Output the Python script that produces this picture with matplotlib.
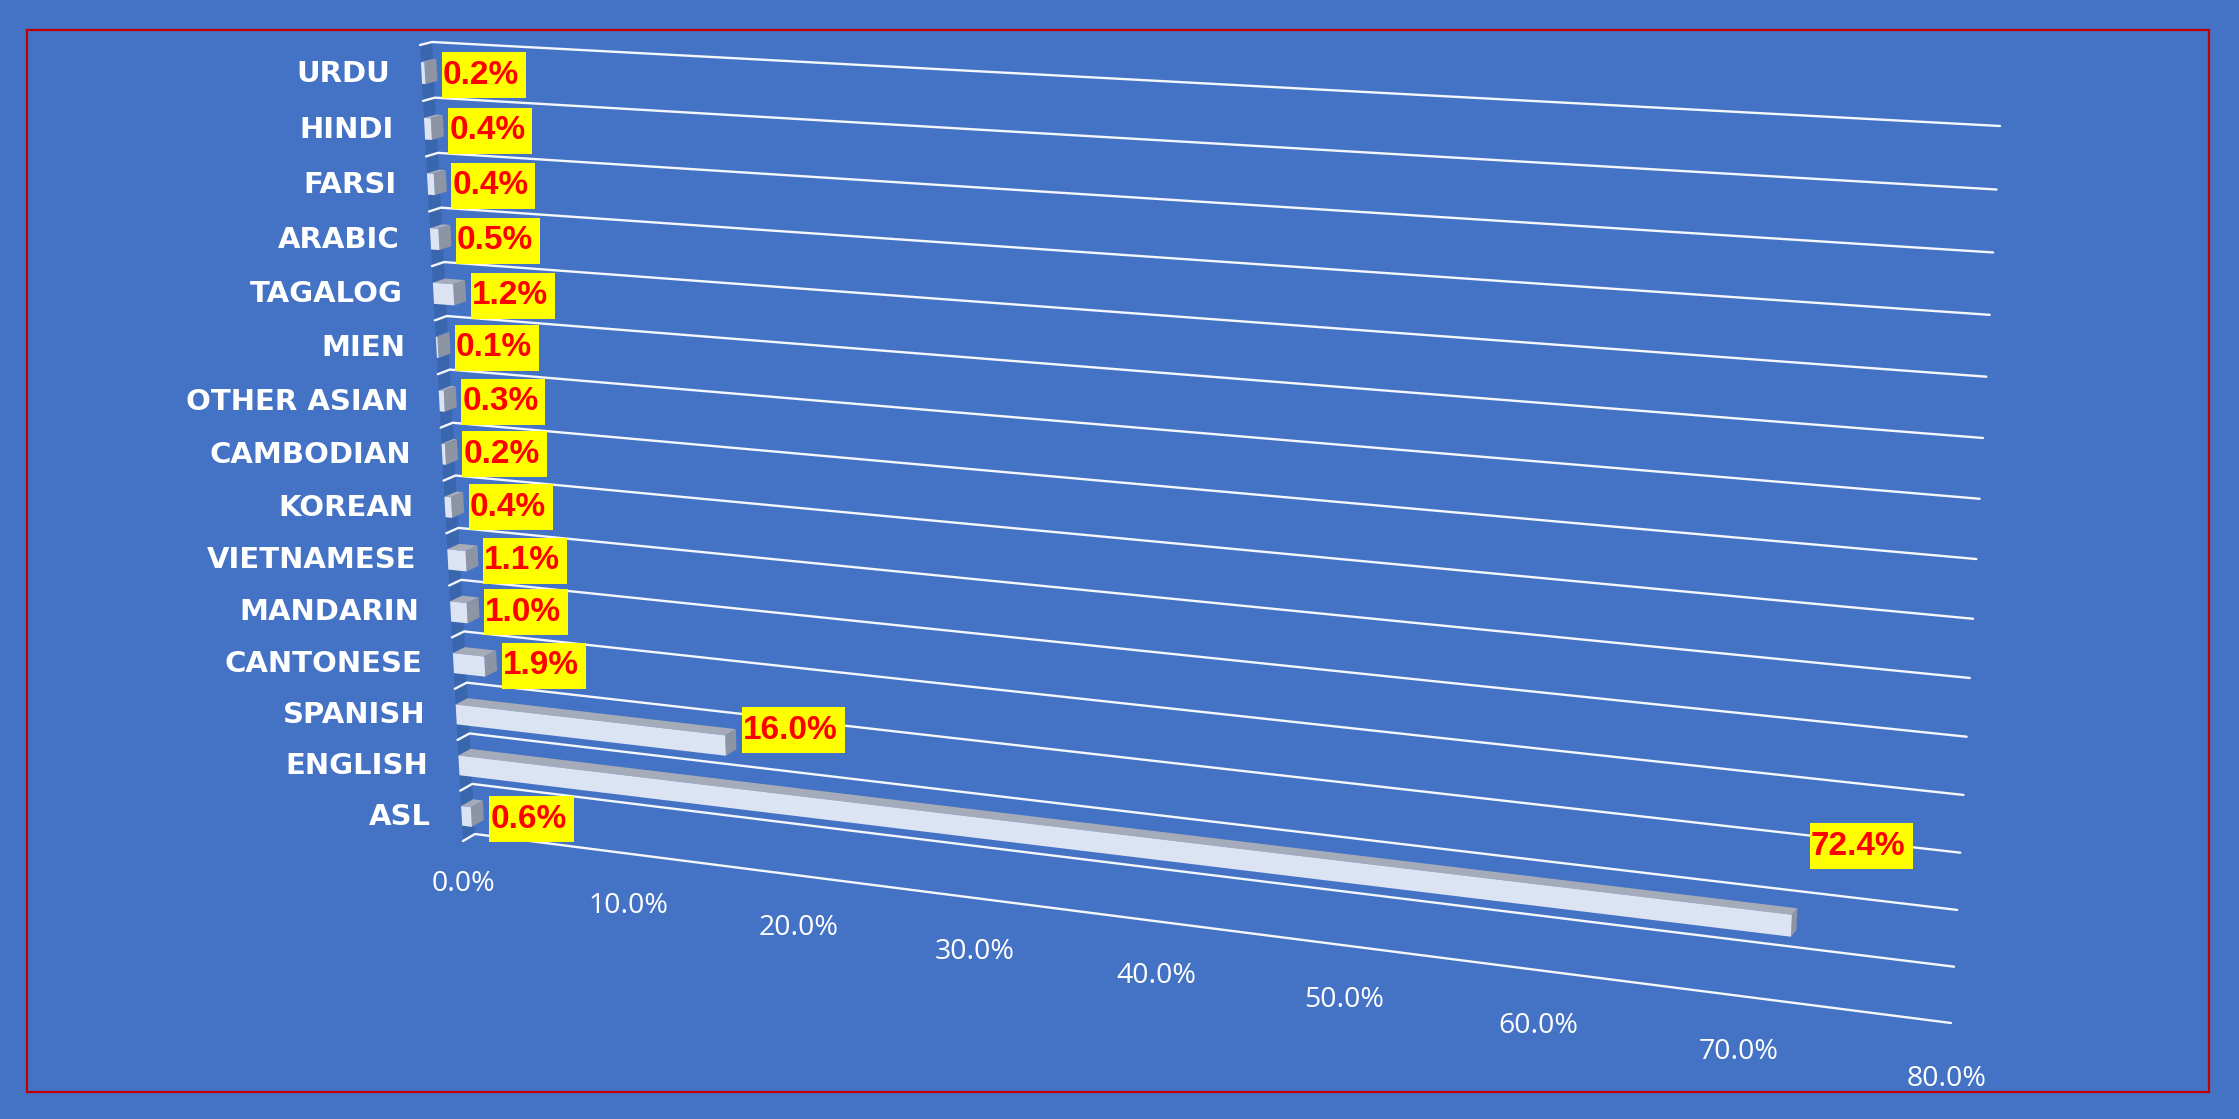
import numpy as np
import matplotlib
matplotlib.use("Agg")
import matplotlib.pyplot as plt
from matplotlib.patches import Polygon, Rectangle

categories = ["ASL", "ENGLISH", "SPANISH", "CANTONESE", "MANDARIN", "VIETNAMESE", "KOREAN",
              "CAMBODIAN", "OTHER ASIAN", "MIEN", "TAGALOG", "ARABIC", "FARSI", "HINDI", "URDU"]
values = [0.6, 72.4, 16.0, 1.9, 1.0, 1.1, 0.4, 0.2, 0.3, 0.1, 1.2, 0.5, 0.4, 0.4, 0.2]
value_ticks = [0, 10, 20, 30, 40, 50, 60, 70, 80]

W, H = 2239, 1119
BG = "#4472C4"
fig = plt.figure(figsize=(W / 100, H / 100), dpi=100, facecolor=BG)
ax = fig.add_axes([0, 0, 1, 1])
ax.set_xlim(0, W)
ax.set_ylim(H, 0)
ax.axis("off")

# perspective of the back wall: (value, row) -> figure pixels
VMAX, N = 80.0, len(categories)
src = [(0, 0), (VMAX, 0), (VMAX, N), (0, N)]
dst = [(475, 834), (1951, 1023), (2000, 126), (432, 42)]
A, b = [], []
for (u, r), (x, y) in zip(src, dst):
    A.append([u, r, 1, 0, 0, 0, -u * x, -r * x]); b.append(x)
    A.append([0, 0, 0, u, r, 1, -u * y, -r * y]); b.append(y)
M = np.append(np.linalg.solve(np.array(A, float), np.array(b, float)), 1).reshape(3, 3)


def proj(v, r, d=0.0):
    """d = 0 on the back wall, d = 1 at the front of the floor depth."""
    p = M @ np.array([v, r, 1.0])
    x, y = p[0] / p[2], p[1] / p[2]
    return x + d * (-12 + 0.09 * v), y + d * (3 + 4 * (1 - r / N))


# red frame
ax.add_patch(Rectangle((27, 30), 2209 - 27, 1092 - 30, fill=False, ec="#C00000", lw=1.6, zorder=1))

# side wall strip
ax.add_patch(Polygon([proj(0, 0, 0), proj(0, N, 0), proj(0, N, 1), proj(0, 0, 1)],
                     closed=True, fc="#3A66AE", ec="none", zorder=2))

# gridlines along rows, with their tick into the wall
for r in range(N + 1):
    pts = [proj(0, r, 1), proj(0, r, 0), proj(VMAX, r, 0)]
    ax.plot(*zip(*pts), color="white", lw=1.7, alpha=0.95, zorder=3, solid_capstyle="round")

# bars
HALF = 0.195
for r, (name, v) in enumerate(zip(categories, values)):
    c = r + 0.5
    t, bt = c + HALF, c - HALF
    top = [proj(0, t, 1), proj(v, t, 1), proj(v, t, 0), proj(0, t, 0)]
    side = [proj(v, t, 1), proj(v, bt, 1), proj(v, bt, 0), proj(v, t, 0)]
    front = [proj(0, t, 1), proj(v, t, 1), proj(v, bt, 1), proj(0, bt, 1)]
    ax.add_patch(Polygon(top, closed=True, fc="#A5ABB8", ec="none", zorder=4))
    ax.add_patch(Polygon(side, closed=True, fc="#8D95A4", ec="none", zorder=4))
    ax.add_patch(Polygon(front, closed=True, fc="#DCE3F2", ec="none", zorder=5))

    # category label
    lx, ly = proj(0, c, 1)
    ax.text(lx - 31, ly + 1, name, ha="right", va="center", color="white",
            family="DejaVu Sans", weight="bold", fontsize=21, zorder=6)

# value labels over a yellow box
label_shift = {"ENGLISH": (8, -78), "SPANISH": (1, -14), "ASL": (1, 4)}
renderer = fig.canvas.get_renderer()
for r, (name, v) in enumerate(zip(categories, values)):
    ex, ey = proj(v, r + 0.5, 0)
    dx, dy = label_shift.get(name, (0, 0))
    x0, yc = ex + 5 + dx, ey + 5 + dy
    txt = ax.text(x0 + 1, yc, f"{v:.1f}%", ha="left", va="center", color="#FF0000",
                  family="Liberation Sans", weight="bold", fontsize=24, zorder=8)
    ext = txt.get_window_extent(renderer)
    ax.add_patch(Rectangle((x0, yc - 23), ext.width + 8, 46, fc="#FFFF00", ec="none", zorder=7))

# value axis labels
for v in value_ticks:
    x, y = proj(v, 0, 1)
    ax.text(x, y + 43 + 0.08 * v, f"{v:.1f}%", ha="center", va="center", color="white",
            family="Open Sans", fontsize=20.5, zorder=6)

fig.savefig("out.png", dpi=100, facecolor=BG)
